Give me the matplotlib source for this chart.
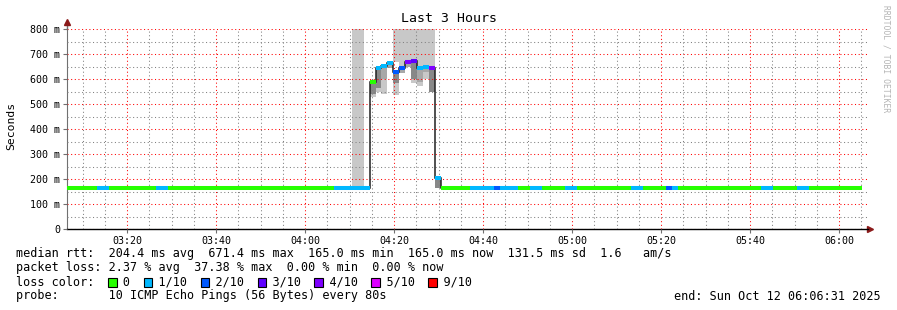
import numpy as np
import matplotlib
matplotlib.use('Agg')
import matplotlib.pyplot as plt
from matplotlib.patches import Rectangle
from matplotlib.ticker import MultipleLocator

plt.rcParams['font.family'] = 'DejaVu Sans Mono'

# time axis in minutes after 03:00, one rrd step = 80 s
step_min = 80 / 60
t_start = 6 + 31 / 60          # 03:06:31
t_stop = t_start + 180         # 06:06:31

# median rtt as runs of equal steps (count, ms, lost pings out of 10)
run_len = [5, 2, 8, 2, 28, 6,
           1, 1, 1, 1, 1, 1, 1, 1, 1, 1, 1, 1,
           5, 4, 1, 3, 2, 2, 4, 2, 9, 2, 4, 1, 1, 14, 2, 4, 2, 9]
run_ms = [165, 165, 165, 165, 165, 165,
          590, 643, 652, 665, 629, 643, 668, 671, 643, 647, 643, 205,
          165, 165, 165, 165, 165, 165, 165, 165, 165, 165, 165, 165, 165, 165, 165, 165, 165, 165]
run_loss = [0, 1, 0, 1, 0, 1,
            0, 1, 1, 1, 2, 2, 4, 3, 1, 1, 4, 1,
            0, 1, 2, 1, 0, 1, 0, 1, 0, 1, 0, 2, 1, 0, 1, 0, 1, 0]

# smoke bands (step index, low ms, high ms, shade)
smoke_step = [48, 49, 51, 51, 52, 52, 53, 53, 54, 55, 55, 55, 56, 56,
              57, 57, 58, 58, 58, 59, 59, 59, 60, 60, 60, 61, 61, 62]
smoke_lo = [165, 165, 527, 539, 549, 565, 540, 600, 645, 535, 585, 670, 625, 650,
            649, 675, 583, 600, 680, 573, 590, 650, 600, 630, 655, 550, 650, 165]
smoke_hi = [820, 820, 590, 590, 643, 643, 652, 652, 665, 629, 629, 820, 643, 820,
            668, 820, 671, 671, 820, 643, 643, 820, 647, 647, 820, 643, 820, 205]
smoke_shade = ['light', 'light', 'light', 'dark', 'light', 'dark', 'light', 'mid', 'mid',
               'light', 'dark', 'light', 'mid', 'light', 'mid', 'light', 'light', 'dark',
               'light', 'light', 'mid', 'light', 'light', 'mid', 'light', 'dark', 'light', 'dark']
shade_colors = {'light': '#c8c8c8', 'mid': '#a8a8a8', 'dark': '#888888'}
shade_z = {'light': 1.0, 'mid': 1.1, 'dark': 1.2}

loss_labels = ['0', '1/10', '2/10', '3/10', '4/10', '5/10', '9/10']
loss_colors = ['#26ff00', '#00b8ff', '#0059ff', '#5e00ff', '#7e00ff', '#dd00ff', '#ff0000']
loss_color_of = {0: '#26ff00', 1: '#00b8ff', 2: '#0059ff', 3: '#5e00ff',
                 4: '#7e00ff', 5: '#dd00ff', 9: '#ff0000'}

x_ticks = [20, 40, 60, 80, 100, 120, 140, 160, 180]
x_labels = ['03:20', '03:40', '04:00', '04:20', '04:40', '05:00', '05:20', '05:40', '06:00']
y_ticks = [0, 0.1, 0.2, 0.3, 0.4, 0.5, 0.6, 0.7, 0.8]
y_labels = ['0', '100 m', '200 m', '300 m', '400 m', '500 m', '600 m', '700 m', '800 m']

legend_lines = [
    'median rtt:  204.4 ms avg  671.4 ms max  165.0 ms min  165.0 ms now  131.5 ms sd  1.6   am/s',
    'packet loss: 2.37 % avg  37.38 % max  0.00 % min  0.00 % now',
    None,
    'probe:       10 ICMP Echo Pings (56 Bytes) every 80s',
]
end_text = 'end: Sun Oct 12 06:06:31 2025'

median_s = np.repeat(run_ms, run_len) / 1000.0
loss = np.repeat(run_loss, run_len)
n = len(median_s)
edges = t_start + step_min * np.arange(n + 1)

W, H = 897, 310
fig = plt.figure(figsize=(W / 100, H / 100), dpi=100)
ax = fig.add_axes([67 / W, (H - 229) / H, (868 - 67) / W, 200 / H])

# smoke
for s, lo, hi, sh in zip(smoke_step, smoke_lo, smoke_hi, smoke_shade):
    ax.bar(edges[s], (hi - lo) / 1000.0, width=step_min, bottom=lo / 1000.0, align='edge',
           color=shade_colors[sh], linewidth=0, zorder=shade_z[sh])

# median line: thin dark step line plus coloured loss segments
ax.stairs(median_s, edges, baseline=None, color='#202020', linewidth=1.1, zorder=3)
segs = ax.hlines(median_s, edges[:-1], edges[1:], colors=[loss_color_of[v] for v in loss],
                 linewidth=2.9, zorder=4)
segs.set_capstyle('butt')

ax.set_xlim(t_start, t_stop)
ax.set_ylim(0, 0.8)
ax.set_xticks(x_ticks, x_labels)
ax.set_yticks(y_ticks, y_labels)
ax.xaxis.set_minor_locator(MultipleLocator(5))
ax.yaxis.set_minor_locator(MultipleLocator(0.05))

ax.set_axisbelow(False)
ax.grid(which='major', color=(1, 0, 0, 0.17), linestyle=(0, (1, 2.5)), linewidth=0.75)
ax.grid(which='minor', color=(0.5, 0.5, 0.5, 0.25), linestyle=(0, (1, 2.5)), linewidth=0.75)

ax.tick_params(which='major', direction='out', length=3, width=0.8, color='#707070',
               labelsize=7.2, pad=2)
ax.tick_params(which='minor', length=0)
for side in ['top', 'right']:
    ax.spines[side].set_visible(False)
ax.spines['left'].set_color('#707070')
ax.spines['bottom'].set_color('black')
ax.spines['bottom'].set_linewidth(1.0)

# axis arrows
ax.plot([0, 0], [1, 1.035], color='#707070', linewidth=1, transform=ax.transAxes, clip_on=False)
ax.plot([0], [1.035], marker='^', markersize=4, color='#8b1a1a', transform=ax.transAxes,
        clip_on=False)
ax.plot([1.0025], [0], marker='>', markersize=4, color='#8b1a1a', transform=ax.transAxes,
        clip_on=False)

fig.text(0.5, 1 - 19 / H, 'Last 3 Hours', ha='center', va='center', fontsize=9.5)
fig.text(11 / W, 1 - 126 / H, 'Seconds', rotation=90, ha='center', va='center', fontsize=8.2)
fig.text(886 / W, 1 - 59 / H, 'RRDTOOL / TOBI OETIKER', rotation=270, ha='center',
         va='center', fontsize=5.8, color='#b4b4b4')

# legend block
fs = 8.5
char_px = 0.602 * fs * 100 / 72
x0 = 16
line_y = [254, 268, 282, 296]
for txt, y in zip(legend_lines, line_y):
    if txt is not None:
        fig.text(x0 / W, 1 - y / H, txt, ha='left', va='center', fontsize=fs)

s = 'loss color:  '
box_idx = []
for lab in loss_labels:
    box_idx.append(len(s))
    s += '  ' + lab + '  '
fig.text(x0 / W, 1 - line_y[2] / H, s, ha='left', va='center', fontsize=fs)
for idx, c in zip(box_idx, loss_colors):
    bx = x0 + idx * char_px
    fig.patches.append(Rectangle((bx / W, (H - line_y[2] - 4.5) / H), 8.5 / W, 8.5 / H,
                                 transform=fig.transFigure, facecolor=c,
                                 edgecolor='black', linewidth=0.8))

fig.text(881 / W, 1 - line_y[3] / H, end_text, ha='right', va='center', fontsize=fs)

fig.savefig('out.png', dpi=100, facecolor='white')
